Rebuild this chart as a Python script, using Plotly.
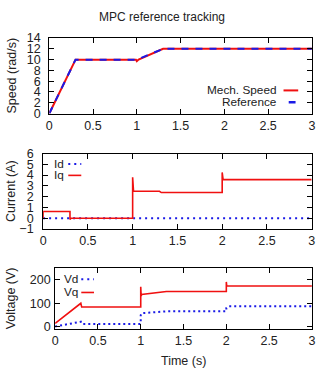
import plotly.graph_objects as go

# ---- data ----
t_ref = [0.0, 0.3, 1.0, 1.3, 3.0]
speed_ref = [0, 10, 10, 12, 12]
t_mech = [0.0, 0.3, 0.99, 1.0, 1.02, 1.3, 3.0]
speed_mech = [0, 10, 10, 9.7, 10, 12, 12]

t_iq = [0.0, 0.0, 0.30, 0.30, 0.31, 1.00, 1.00, 1.01, 1.30, 1.32, 2.00, 2.00, 2.01, 3.00]
iq = [0.0, 0.62, 0.62, -0.12, 0.0, 0.0, 3.8, 2.5, 2.5, 2.38, 2.38, 4.25, 3.6, 3.58]
t_id = [0.0, 3.0]
id_ = [0.0, 0.0]

t_vq = [0.0, 0.28, 0.30, 0.31, 1.0, 1.0, 1.005, 1.01, 1.3, 2.0, 2.0, 2.005, 3.0]
vq = [15, 97, 100, 84, 84, 170, 130, 137, 150, 150, 190, 173, 173]
t_vd = [0.0, 0.28, 0.30, 0.31, 1.0, 1.0, 1.01, 1.3, 2.0, 2.0, 2.02, 3.0]
vd = [2, 20, 22, 13, 13, 50, 58, 66, 66, 80, 87, 87]

x_ticks = [0, 0.5, 1, 1.5, 2, 2.5, 3]
x_tick_labels = ["0", "0.5", "1", "1.5", "2", "2.5", "3"]

W, H = 325, 370
RED = "#f01010"
BLUE = "#1a1ae6"
FONT = "Liberation Sans, Arial, sans-serif"
TXT = "#222"

def px(x):
    return x / W

def py(y):
    return 1 - y / H

fig = go.Figure()

fig.add_trace(go.Scatter(x=t_mech, y=speed_mech, mode="lines", line=dict(color=RED, width=2),
                         xaxis="x", yaxis="y", showlegend=False))
fig.add_trace(go.Scatter(x=t_ref, y=speed_ref, mode="lines", line=dict(color=BLUE, width=2, dash="7px,7px"),
                         xaxis="x", yaxis="y", showlegend=False))

fig.add_trace(go.Scatter(x=t_id, y=id_, mode="lines", line=dict(color=BLUE, width=2, dash="2px,4px"),
                         xaxis="x2", yaxis="y2", showlegend=False))
fig.add_trace(go.Scatter(x=t_iq, y=iq, mode="lines", line=dict(color=RED, width=1.6),
                         xaxis="x2", yaxis="y2", showlegend=False))

fig.add_trace(go.Scatter(x=t_vd, y=vd, mode="lines", line=dict(color=BLUE, width=2, dash="2px,3px"),
                         xaxis="x3", yaxis="y3", showlegend=False))
fig.add_trace(go.Scatter(x=t_vq, y=vq, mode="lines", line=dict(color=RED, width=1.6),
                         xaxis="x3", yaxis="y3", showlegend=False))

common_x = dict(range=[0, 3], tickvals=x_ticks, ticktext=x_tick_labels, ticks="inside", ticklen=5,
                mirror="ticks", showline=True, linecolor="black", linewidth=1, showgrid=False,
                zeroline=False, tickcolor="black", tickfont=dict(size=12.5, color=TXT))
common_y = dict(ticks="inside", ticklen=5, mirror="ticks", showline=True, linecolor="black",
                linewidth=1, showgrid=False, zeroline=False, tickcolor="black",
                tickfont=dict(size=12.5, color=TXT))

fig.update_layout(
    width=W, height=H, margin=dict(l=0, r=0, t=0, b=0),
    paper_bgcolor="white", plot_bgcolor="white",
    font=dict(family=FONT, color=TXT),
    xaxis=dict(domain=[px(47.3), px(315.7)], anchor="y", **common_x),
    yaxis=dict(domain=[py(110.7), py(32.3)], anchor="x", range=[0, 14], dtick=2,
               ticklabelstandoff=5, **common_y),
    xaxis2=dict(domain=[px(41), px(315.5)], anchor="y2", **common_x),
    yaxis2=dict(domain=[py(230.7), py(152.3)], anchor="x2", range=[-1, 6], dtick=1,
                ticklabelstandoff=6, **common_y),
    xaxis3=dict(domain=[px(53.3), px(315.7)], anchor="y3", **common_x),
    yaxis3=dict(domain=[py(335), py(271)], anchor="x3", range=[-10, 250], tickvals=[0, 100, 200],
                ticklabelstandoff=1, **common_y),
)

annotations = [
    dict(text="MPC reference tracking", x=px(162.5), y=py(10), size=12),
    dict(text="Speed (rad/s)", x=px(9), y=py(71.5), size=12.5, angle=-90),
    dict(text="Current (A)", x=px(8), y=py(191.5), size=12.5, angle=-90),
    dict(text="Voltage (V)", x=px(8), y=py(303), size=12.5, angle=-90),
    dict(text="Time (s)", x=px(184.5), y=py(368), size=12.5),
]
for a in annotations:
    fig.add_annotation(text=a["text"], x=a["x"], y=a["y"], xref="paper", yref="paper",
                       showarrow=False, xanchor="center", yanchor="middle",
                       textangle=a.get("angle", 0), font=dict(size=a["size"], family=FONT, color=TXT))

# legend entries
legend_items = [
    ("Mech. Speed", 282, 86.7, "right", 286.7, 301.7, RED, "solid", 2),
    ("Reference", 282, 99, "right", 292, 299, BLUE, "solid", 2.5),
    ("Id", 50, 163.3, "left", 66.7, 80, BLUE, "2px,4px", 2),
    ("Iq", 50, 175, "left", 66.7, 80, RED, "solid", 1.6),
    ("Vd", 60, 283, "left", 80, 93, BLUE, "2px,4px", 2),
    ("Vq", 60, 296.7, "left", 80, 93, RED, "solid", 1.6),
]
for text, tx, ty, anch, x0, x1, col, dash, w in legend_items:
    fig.add_annotation(text=text, x=px(tx), y=py(ty), xref="paper", yref="paper", showarrow=False,
                       xanchor=anch, yanchor="middle", font=dict(size=11.8, family=FONT, color=TXT))
    fig.add_shape(type="line", xref="paper", yref="paper", x0=px(x0), x1=px(x1), y0=py(ty), y1=py(ty),
                  line=dict(color=col, width=w, dash=dash))

fig.write_html("out.html")
